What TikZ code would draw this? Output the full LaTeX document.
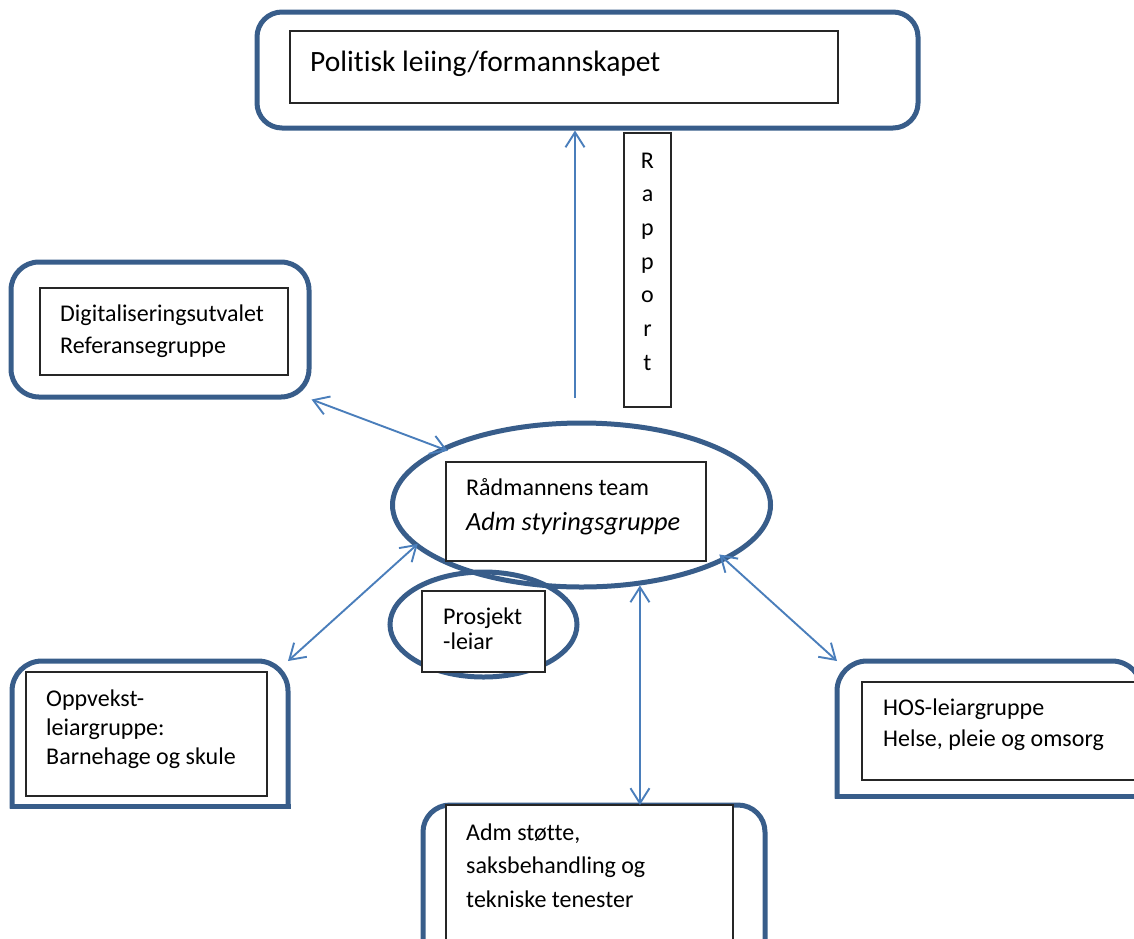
\documentclass[tikz,border=0pt]{standalone}
\usepackage{fontspec}
\setmainfont{Carlito}[Ligatures=NoCommon]
\usetikzlibrary{shapes.geometric,arrows.meta,calc}
\definecolor{frameblue}{HTML}{385D8A}
\definecolor{linkblue}{HTML}{4A7EBB}
\definecolor{boxline}{HTML}{262626}
\begin{document}
\begin{tikzpicture}[x=1pt,y=-1pt,
  frame/.style={draw=frameblue, line width=5pt, inner sep=0pt},
  frameline/.style={draw=frameblue, line width=5pt, line cap=rect},
  ghost/.style={draw=none, inner sep=0pt, outer sep=0pt},
  innerbox/.style={draw=boxline, line width=1.3pt, fill=white, inner sep=0pt, outer sep=0pt},
  txt/.style={inner sep=0pt, anchor=base west, align=flush left, text width=320pt,
    font=\fontsize{24}{#1}\selectfont,
    execute at begin node={\spaceskip=0pt\xspaceskip=0pt}},
  link/.style={draw=linkblue, line width=1.9pt, {Straight Barb[length=15pt,width=19pt]}-{Straight Barb[length=15pt,width=19pt]}},
  uplink/.style={draw=linkblue, line width=1.9pt, -{Straight Barb[length=15pt,width=19pt]}}
]
\useasboundingbox (0,0) rectangle (1134,938);
\clip (0,0) rectangle (1134,938);

% outer frames
\node[frame, rounded corners=25pt, minimum width=661pt, minimum height=116pt] (pol) at (587.5,70) {};
\node[frame, rounded corners=28pt, minimum width=298pt, minimum height=135pt] (dig) at (160,329.5) {};

\node[ghost, minimum width=276pt, minimum height=145pt] (opp) at (150,733.5) {};
\draw[frameline, rounded corners=30pt] (opp.south west) -- (opp.north west) -- (opp.north east) -- (opp.south east);
\draw[frameline] (opp.south east) -- (opp.south west);

\node[ghost, minimum width=305pt, minimum height=135pt] (hos) at (989.5,728.5) {};
\draw[frameline, rounded corners=30pt] (hos.south west) -- (hos.north west) -- (hos.north east) -- (hos.south east);
\draw[frameline] (hos.south east) -- (hos.south west);

\node[ghost, minimum width=342pt, minimum height=150pt] (adm) at (594,880) {};
\draw[frameline, rounded corners=27pt] (adm.south west) -- (adm.north west) -- (adm.north east) -- (adm.south east);

% ellipses
\node[frame, ellipse, minimum width=378pt, minimum height=164pt] (rad) at (581.5,505) {};
\node[frame, ellipse, minimum width=187pt, minimum height=105pt] (pro) at (483.5,624.5) {};

% inner boxes
\node[innerbox, minimum width=548pt, minimum height=72pt] (polbox) at (564,67) {};
\node[innerbox, minimum width=248pt, minimum height=87pt] (digbox) at (164,331.5) {};
\node[innerbox, minimum width=260pt, minimum height=99pt] (radbox) at (576,511.5) {};
\node[innerbox, minimum width=123pt, minimum height=81pt] (probox) at (483.5,631.5) {};
\node[innerbox, minimum width=241pt, minimum height=124pt] (oppbox) at (146.5,734) {};
\node[innerbox, minimum width=290pt, minimum height=98pt] (hosbox) at (1007,731) {};
\node[innerbox, minimum width=287pt, minimum height=150pt] (admbox) at (589.5,880) {};
\node[innerbox, minimum width=47pt, minimum height=274pt] (rapbox) at (647.5,270) {};

% texts
\node[inner sep=0pt, anchor=base west, font=\fontsize{29.5}{35}\selectfont] (poltxt) at (310,71) {Politisk leiing/formannskapet};
\node[inner sep=0pt, anchor=base, align=center, text width=40pt, font=\fontsize{24}{33.7}\selectfont] (raptxt) at (647.5,168) {R\\a\\p\\p\\o\\r\\t};
\node[txt=32] (digtxt) at (60,321) {Digitaliseringsutvalet\\Referansegruppe};
\node[txt=35] (radtxt) at (466,495) {Rådmannens team\\{\fontsize{26.3}{35}\selectfont\itshape Adm styringsgruppe}};
\node[txt=25] (protxt) at (443,624) {Prosjekt\\-leiar};
\node[txt=29] (opptxt) at (46,706) {Oppvekst-\\leiargruppe:\\Barnehage og skule};
\node[txt=31] (hostxt) at (883,715) {HOS-leiargruppe\\Helse, pleie og omsorg};
\node[txt=33.5] (admtxt) at (466,840) {Adm støtte,\\saksbehandling og\\tekniske tenester};

% connectors
\draw[link, shorten >=-8pt] (dig.south east) -- (rad.158);
\draw[link, shorten >=-4pt] (opp.north east) -- (rad.194);
\draw[link, shorten >=-9pt] (hos.north west) -- (rad.-21);
\draw[link] (rad.-54) -- (rad.-54 |- admbox.north);
\coordinate (repstart) at (575,398);
\draw[uplink] (repstart) -- (repstart |- pol.south);
\end{tikzpicture}
\end{document}
